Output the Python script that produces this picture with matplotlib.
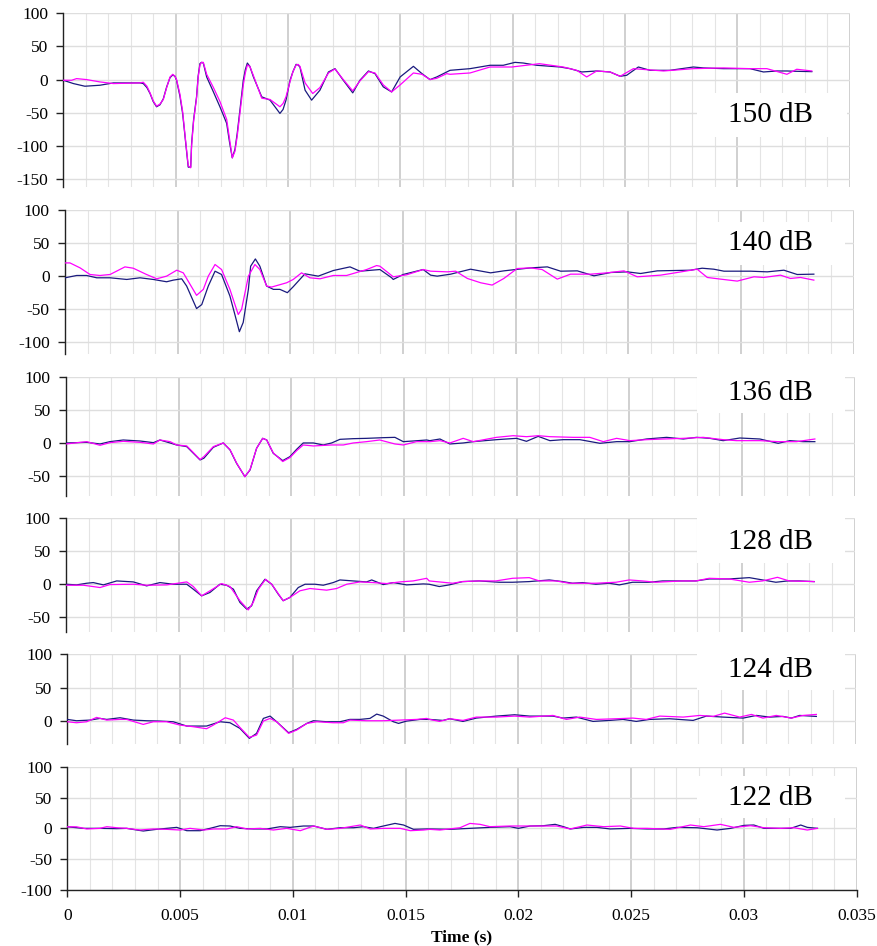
import numpy as np
import matplotlib
matplotlib.use("Agg")
import matplotlib.pyplot as plt
from matplotlib.patches import Rectangle

# ---------------- data (time in ms, pressure values) ----------------
labels = ["150 dB", "140 dB", "136 dB", "128 dB", "124 dB", "122 dB"]

t150_b = [0.0, 0.45, 0.96, 1.63, 2.23, 3.41, 3.56, 3.72, 3.86, 4.00, 4.15, 4.30, 4.45, 4.60, 4.75, 4.87, 4.97,
          5.04, 5.19, 5.31, 5.43, 5.56, 5.67, 5.71, 5.80, 5.93, 6.00, 6.08, 6.15, 6.23, 6.38, 6.68, 6.97, 7.27,
          7.40, 7.52, 7.64, 7.74, 7.88, 8.01, 8.10, 8.19, 8.30, 8.46, 8.83, 9.20, 9.64, 9.78, 9.91, 10.09,
          10.22, 10.36, 10.45, 10.53, 10.76, 11.05, 11.42, 11.80, 12.09, 12.46, 12.88, 13.20, 13.58, 13.87,
          14.24, 14.61, 14.99, 15.58, 15.96, 16.32, 16.62, 17.21, 18.10, 18.99, 19.58, 20.10, 20.47, 21.07,
          22.11, 22.55, 23.07, 23.74, 24.33, 24.78, 25.07, 25.59, 26.11, 27.00, 28.04, 28.49, 29.38, 30.56,
          31.16, 31.75, 32.20, 32.64, 33.31]
v150_b = [-1, -6, -10, -8.5, -5, -5, -6, -12, -21, -33, -41, -38, -29, -11, 3, 7, 5,
          -1, -25, -51, -90, -132, -132, -96, -60, -26, 5, 24, 26, 25, 4, -18.6, -41, -66,
          -95, -118, -105, -81, -40, -1, 15, 25, 20, 4, -26, -31, -51, -45, -31, -1,
          12, 23, 22, 19, -16, -31, -16, 11.5, 16.5, -1, -20, -1, 13, 9,
          -11, -18.6, 4, 20, 9, 0, 4, 14, 16.5, 21.6, 21.6, 26, 25, 21.6,
          19, 16.5, 11.5, 13, 11.5, 5, 6.5, 19, 14, 14, 19, 17.6, 16.5, 16.5,
          11.5, 13, 13, 12.5, 12]
t150_m = [0.0, 0.37, 0.59, 1.04, 1.63, 2.23, 3.41, 3.56, 3.72, 3.86, 4.00, 4.15, 4.30, 4.45, 4.60, 4.75, 4.87,
          4.97, 5.04, 5.19, 5.31, 5.43, 5.56, 5.67, 5.71, 5.80, 5.93, 6.00, 6.08, 6.15, 6.23, 6.38, 6.68, 6.97,
          7.27, 7.40, 7.52, 7.64, 7.74, 7.88, 8.01, 8.10, 8.19, 8.30, 8.46, 8.83, 9.20, 9.64, 9.78, 9.91,
          10.09, 10.22, 10.36, 10.45, 10.53, 10.76, 11.10, 11.42, 11.80, 12.09, 12.46, 12.88, 13.20, 13.58,
          13.87, 14.24, 14.61, 14.99, 15.58, 15.96, 16.32, 16.62, 17.06, 17.21, 18.10, 18.99, 19.96, 21.19,
          22.25, 22.85, 23.29, 23.74, 24.33, 24.78, 25.37, 26.71, 28.04, 29.38, 30.56, 31.31, 32.20, 32.64,
          33.31]
v150_m = [-1, -1, 1.5, 0, -3.5, -6, -5, -4, -10, -20, -32, -40, -37, -30, -12, 4, 8,
          5, 0, -22, -48, -88, -130, -133, -100, -62, -28, 3, 22, 26, 26, 8, -12, -33,
          -60, -90, -118, -108, -85, -45, -8, 10, 22, 20, 6, -28, -30, -41, -36, -26,
          -3, 12, 22, 23, 20, -5, -21, -12, 10, 16, 0, -17, -2, 12,
          10, -8, -18.6, -8, 10, 8, 0, 2, 9, 8, 10, 19, 19, 24,
          19, 14, 4, 13, 11.5, 5, 16.5, 13, 16.5, 17.6, 16.5, 16.5, 8, 15.6,
          13]

t140_b = [0.0, 0.52, 0.96, 1.41, 2.00, 2.74, 3.33, 3.92, 4.51, 4.81, 5.18, 5.40, 5.84, 6.07, 6.36, 6.66, 6.95,
          7.32, 7.54, 7.74, 7.91, 8.14, 8.24, 8.45, 8.65, 8.95, 9.25, 9.54, 9.87, 10.13, 10.65, 11.24, 11.91,
          12.65, 13.09, 13.98, 14.50, 14.57, 15.01, 15.90, 16.23, 16.52, 17.12, 18.00, 18.89, 19.48, 20.00,
          20.67, 21.41, 22.00, 22.74, 23.48, 24.22, 24.96, 25.55, 26.29, 27.77, 28.28, 28.80, 29.25, 30.43,
          31.17, 31.91, 32.50, 33.24]
v140_b = [-2.5, 1, 1, -2.5, -2.5, -5, -2.5, -5, -8.5, -6, -4, -15, -49, -43, -15, 7.5, 2.5,
          -30, -58, -84, -70, -20, 15, 26, 15, -15, -20, -20, -25, -16, 3.5, 0, 8.5,
          14, 7.5, 10, -2.5, -5, 2.5, 10, 1.5, 0, 3, 10.5, 5, 8, 10,
          12.5, 14, 7.5, 8, 0.5, 5.5, 6.5, 4, 8, 9, 12, 10.5, 7.5, 7.5,
          6.5, 9, 2.5, 3]
t140_m = [0.0, 0.22, 0.67, 1.11, 1.55, 2.00, 2.66, 3.03, 3.62, 4.07, 4.51, 4.96, 5.25, 5.84, 6.14, 6.36, 6.66,
          6.95, 7.32, 7.69, 7.84, 8.14, 8.43, 8.65, 8.95, 9.17, 9.84, 10.13, 10.50, 10.87, 11.32, 11.91, 12.50,
          13.39, 13.83, 13.98, 14.57, 15.16, 15.90, 16.23, 16.97, 17.34, 17.86, 18.45, 18.96, 19.48, 20.07,
          20.67, 21.18, 21.85, 22.44, 23.33, 24.07, 24.81, 25.40, 26.43, 27.17, 28.06, 28.51, 29.10, 29.84,
          30.58, 31.02, 31.76, 32.20, 32.65, 33.24]
v140_m = [20, 20, 12.5, 2.5, 1, 2.5, 14, 12, 2.5, -4, 0, 9, 5, -29, -20, 0, 17.6,
          10, -20, -58, -50, 0, 17.6, 10, -15, -16.5, -10, -5, 5, -2.5, -4, 1, 1,
          10, 16, 15, -1, 2, 10, 7.5, 6.5, 7.5, -3.5, -10, -13.5, -3.5, 11.5,
          12.5, 10, -4.5, 3, 3, 5, 8, -1, 1.5, 5.5, 10.5, -2, -4.5, -7.5,
          -1, -2, 1.5, -3.5, -2, -6]

t136_b = [0.0, 0.92, 1.51, 1.95, 2.54, 3.28, 3.88, 4.17, 4.62, 4.91, 5.36, 5.58, 5.95, 6.12, 6.54, 6.98, 7.28,
          7.57, 7.94, 8.17, 8.46, 8.73, 8.91, 9.20, 9.62, 9.94, 10.24, 10.53, 10.98, 11.42, 11.79, 12.16, 12.75,
          13.34, 14.08, 14.60, 14.97, 15.41, 16.01, 16.15, 16.60, 17.04, 17.63, 18.08, 19.11, 20.00, 20.44,
          20.96, 21.48, 22.07, 22.81, 23.70, 24.44, 25.03, 25.77, 26.66, 27.40, 27.99, 28.58, 29.17, 29.91,
          30.80, 31.61, 32.13, 32.72, 33.24]
v136_b = [0, 1, -1.5, 2, 4.5, 3, 0.5, 4.5, 0, -3, -5.5, -13, -25.6, -23, -6.5, 0, -10.5,
          -30.6, -50.8, -40.7, -8, 7, 4.5, -15.6, -26.6, -20.6, -9.5, 0, 0, -3, 0, 5.5, 6.5,
          7, 8, 8.5, 2, 3, 4.5, 3.5, 6, -1.5, 0, 2, 5, 7, 2.5,
          10, 3.5, 5, 5, -0.5, 2, 2, 6, 8.5, 6, 8.5, 7, 3.5, 7.5,
          6, -0.5, 3.5, 2, 2]
t136_m = [0.0, 0.92, 1.51, 1.95, 2.54, 3.28, 3.88, 4.17, 4.62, 4.91, 5.36, 5.58, 5.95, 6.12, 6.54, 6.98, 7.28,
          7.57, 7.94, 8.17, 8.46, 8.73, 8.91, 9.20, 9.62, 9.94, 10.24, 10.53, 10.98, 11.79, 12.31, 12.75, 13.34,
          13.93, 14.60, 14.97, 15.56, 16.15, 16.60, 17.04, 17.63, 18.08, 19.11, 19.85, 20.44, 20.96, 21.48,
          22.51, 23.25, 23.85, 24.44, 25.03, 25.77, 26.51, 27.40, 28.28, 29.17, 29.76, 30.80, 31.61, 32.43,
          33.24]
v136_m = [-1.5, 2, -3.5, 0.5, 2.5, 1, -1.5, 4.5, 2, -3, -4.5, -12, -25, -20.6, -5.5, 0, -10,
          -30, -51, -40, -8, 7, 4.5, -15, -28, -22, -11.5, -3, -4.5, -3, -3, 0, 2,
          4.5, -1.5, -3, 2, 2, 3.5, 0, 7, 2, 8.5, 11, 9.5, 11, 9.5,
          8.5, 8.5, 2, 7, 3.5, 5, 6, 7, 8.5, 5, 3.5, 3.5, 2, 2,
          6]

t128_b = [0.0, 0.47, 0.92, 1.21, 1.66, 2.25, 2.99, 3.58, 4.17, 4.76, 5.36, 5.65, 6.02, 6.39, 6.83, 7.13, 7.43,
          7.72, 8.02, 8.24, 8.46, 8.83, 9.13, 9.42, 9.64, 9.94, 10.31, 10.61, 11.05, 11.42, 11.86, 12.16, 12.75,
          13.34, 13.57, 14.08, 14.53, 15.12, 15.86, 16.12, 16.57, 17.01, 17.60, 18.34, 19.23, 19.82, 20.56,
          21.45, 22.04, 22.49, 22.93, 23.52, 24.11, 24.56, 25.15, 25.89, 26.48, 27.37, 27.96, 28.55, 29.44,
          30.33, 30.92, 31.51, 32.03, 32.54, 33.21]
v128_b = [0, -1, 1.5, 2.5, -1, 5, 3.5, -2.5, 2.5, 0, 0, -7.5, -17.6, -12.5, 0, -1.5, -7.5,
          -27.6, -37.7, -32.7, -10, 7.5, 0, -15, -25, -20, -5, 0, 0, -1.5, 2.5, 6.5, 5,
          3.5, 6.5, -0.5, 2.5, -1, 0.5, 0, -3.5, -1, 4, 5, 3, 3, 4,
          6.5, 4, 1.5, 2.5, 0, 1.5, -1, 3, 3, 5, 5, 5, 8, 8,
          10, 6.5, 3, 5, 5, 4]
t128_m = [0.0, 0.77, 1.51, 1.95, 2.99, 3.58, 4.47, 5.36, 5.65, 6.02, 6.39, 6.91, 7.28, 7.72, 8.09, 8.31, 8.54,
          8.86, 9.13, 9.64, 9.94, 10.38, 10.83, 11.57, 12.01, 12.46, 13.05, 13.64, 14.23, 14.82, 15.41, 16.01,
          16.12, 16.72, 17.16, 17.60, 18.34, 19.08, 19.82, 20.56, 21.01, 21.75, 22.34, 23.08, 23.52, 24.41,
          25.00, 25.59, 26.18, 27.37, 27.96, 28.55, 29.44, 30.33, 30.92, 31.58, 32.10, 33.21]
v128_m = [-1.5, -1.5, -5, -0.5, 0, -1.5, -1, 3.5, -3.5, -17.6, -10, 1, -3.5, -25, -39, -27.6, -7.5,
          7.5, 0, -25, -20, -10, -6.5, -9, -6.5, 0, 3.5, 2.5, 1, 3.5, 5, 9,
          5, 3, 1.5, 4, 5, 5, 9, 10, 5, 5, 1.5, 1.5, 1.5, 3,
          6.5, 5, 3, 5, 5, 9, 8, 3, 5, 10.5, 5, 4]

t124_b = [0.0, 0.41, 1.01, 1.45, 1.75, 2.34, 2.93, 3.52, 4.11, 4.70, 5.30, 5.89, 6.18, 6.78, 7.22, 7.66, 8.08,
          8.40, 8.70, 9.00, 9.29, 9.82, 10.18, 10.63, 10.92, 11.51, 12.10, 12.54, 12.99, 13.43, 13.73, 14.02,
          14.47, 14.70, 15.06, 15.65, 16.08, 16.67, 16.97, 17.56, 18.15, 19.04, 19.85, 20.52, 21.55, 22.00,
          22.59, 23.33, 24.07, 24.66, 25.25, 25.84, 26.73, 27.77, 28.36, 29.10, 29.99, 30.58, 31.17, 31.76,
          32.13, 32.50, 33.24]
v124_b = [2, 0, 1, 3.5, 2, 4.5, 1, 0, -0.5, -1.5, -8, -8, -8, -1.5, -3, -11.5, -26.5,
          -19, 3.5, 7, -1.5, -18, -13, -4, 0, -1.5, -1.5, 2, 2, 3.5, 10, 7,
          -1.5, -4, -0.5, 2, 2, 0.5, 3, -1, 4, 7, 9, 7, 7, 4,
          5.5, -1, 0.5, 2, -1, 2, 3, 0.5, 7, 5.5, 4, 8, 5.5, 6.5,
          4, 8, 6.5]
t124_m = [0.0, 0.41, 0.86, 1.30, 1.75, 2.34, 2.63, 3.37, 3.82, 4.41, 5.00, 5.59, 6.18, 6.48, 7.01, 7.37, 7.66,
          8.08, 8.40, 8.70, 9.00, 9.29, 9.82, 10.18, 10.63, 11.07, 11.80, 12.25, 12.54, 13.28, 14.02, 14.76,
          15.50, 15.95, 16.08, 16.52, 16.97, 17.56, 18.15, 19.04, 19.85, 20.52, 21.55, 22.15, 22.74, 23.48,
          24.36, 25.10, 25.69, 26.29, 27.33, 28.07, 28.66, 29.17, 29.84, 30.36, 30.87, 31.46, 32.13, 32.65,
          33.24]
v124_m = [-1.5, -3, -1.5, 5, 1, 2, 2, -5.5, -1.5, -1.5, -6.5, -9, -12, -6.5, 4.5, 1, -10,
          -25, -21.5, -0.5, 3.5, -1.5, -19, -14, -4, -1.5, -3, -3, 1, 0, 0, 1,
          2, 3.5, 2, -1, 3, 0.5, 5.5, 5.5, 7, 5.5, 8, 2, 5.5, 2,
          3, 4, 2, 7, 5.5, 8, 6.5, 11.5, 5.5, 9.5, 4, 8, 4, 8,
          9.5]

t122_b = [0.0, 0.71, 1.45, 2.19, 2.63, 3.08, 3.37, 3.96, 4.41, 4.85, 5.30, 5.89, 6.33, 6.78, 7.22, 7.66, 8.25,
          8.85, 9.44, 9.88, 10.47, 10.92, 11.51, 12.10, 12.69, 13.13, 13.58, 13.88, 14.53, 14.91, 15.35, 15.95,
          16.07, 16.96, 17.85, 18.74, 19.63, 20.00, 20.52, 21.11, 21.63, 22.00, 22.30, 22.89, 23.48, 24.07,
          24.96, 25.70, 26.44, 27.04, 27.93, 28.81, 29.41, 30.00, 30.44, 30.89, 31.63, 32.07, 32.52, 32.81,
          33.26]
v122_b = [2.5, 0, 0, -0.5, 0, -2.7, -4.3, -1.6, 0, 1.6, -3.8, -3.8, 0, 4.3, 3.8, 0, -1,
          -1, 2.7, 1.6, 3.8, 3.8, -1.6, 1, 1, 2.7, 0, 2.7, 8, 5.4, -1.6, -1,
          -1, -1.6, 0, 1.6, 2.7, 0, 3.8, 4.3, 6.5, 2.7, -1, 1.6, 1.6, -1,
          0, -1, -1, 1.6, 1, -2.7, 0, 4.8, 5.4, 0, 0, 0, 5.4, 1.6,
          0]
t122_m = [0.0, 0.41, 0.86, 1.45, 1.75, 2.19, 2.63, 3.22, 3.81, 4.41, 5.00, 5.44, 6.04, 6.48, 7.07, 7.51, 7.96,
          8.55, 9.14, 9.73, 10.33, 10.92, 11.51, 12.10, 12.99, 13.43, 14.02, 14.76, 15.21, 15.80, 16.07, 16.52,
          17.41, 17.85, 18.30, 18.74, 19.63, 20.52, 21.70, 22.30, 23.04, 23.78, 24.52, 25.11, 25.70, 26.74,
          27.63, 28.22, 28.96, 29.56, 30.30, 30.89, 31.63, 32.22, 32.81, 33.26]
v122_m = [2.5, 2.5, -1, 0, 2.7, 1, 0, -2.7, -1, -1.6, -2.7, 0, -2.7, -1, -1, 2.7, -1,
          0, -2.7, 0, -3.8, 3.8, -1.6, 0, 5.4, -1, 0, 0, -3.8, -2.7, -1.6, -2.7,
          1, 8, 6.5, 2.7, 3.8, 3.8, 3.8, -1, 5.4, 2.7, 3.8, 0, 0, -1.6,
          5.4, 2.7, 6.5, 1.6, 4.3, 1, 0, 1, -2.7, 0]

series = [(t150_b, v150_b, t150_m, v150_m), (t140_b, v140_b, t140_m, v140_m),
          (t136_b, v136_b, t136_m, v136_m), (t128_b, v128_b, t128_m, v128_m),
          (t124_b, v124_b, t124_m, v124_m), (t122_b, v122_b, t122_m, v122_m)]

yticks = [[-150, -100, -50, 0, 50, 100], [-100, -50, 0, 50, 100], [-50, 0, 50, 100],
          [-50, 0, 50, 100], [0, 50, 100], [-100, -50, 0, 50, 100]]
xticks = [0, 0.005, 0.01, 0.015, 0.02, 0.025, 0.03, 0.035]
xtick_labels = ["0", "0.005", "0.01", "0.015", "0.02", "0.025", "0.03", "0.035"]
xlabel = "Time (s)"

# ---------------- layout (pixels) ----------------
W, H = 877, 946
# left, right, top, bottom (px), ymin
frames = [(63.3, 849.8, 13.3, 187.0, -162),
          (65.0, 853.5, 210.0, 354.0, -117.7),
          (66.0, 854.5, 376.7, 496.0, -80),
          (66.0, 854.5, 518.3, 631.7, -72),
          (67.3, 856.0, 654.3, 744.0, -35),
          (67.3, 856.7, 766.7, 890.0, -100)]
boxes = [(697, 847, 93, 137), (697, 845, 222, 265), (697, 845, 368, 413),
         (697, 845, 510, 563), (697, 845, 645, 690), (697, 845, 776, 818)]
label_y = [115, 243, 393, 542, 670, 798]

SERIF = ["Liberation Serif", "DejaVu Serif"]
plt.rcParams["font.family"] = SERIF

fig = plt.figure(figsize=(W / 100, H / 100), dpi=100)
fig.patch.set_facecolor("white")

NAVY = "#1a1a7e"
MAG = "#ff00ff"

for i, ((l, r, t, b, ymin), (tb, vb, tm, vm), yt) in enumerate(zip(frames, series, yticks)):
    ax = fig.add_axes([l / W, 1 - b / H, (r - l) / W, (b - t) / H])
    ax.set_xlim(0, 0.035)
    ax.set_ylim(ymin, 100)
    ax.set_yticks(yt)
    ax.set_yticklabels([str(v) for v in yt])
    ax.set_xticks(xticks)
    ax.set_xticks(np.arange(0, 0.0351, 0.001), minor=True)
    ax.grid(which="minor", axis="x", color="#e4e4e4", lw=0.8, zorder=0)
    ax.grid(which="major", axis="x", color="#c4c4c4", lw=1.1, zorder=0)
    ax.grid(which="major", axis="y", color="#dedede", lw=1.0, zorder=0)
    ax.set_axisbelow(True)
    for s in ["top", "right"]:
        ax.spines[s].set_visible(False)
    ax.spines["left"].set_color("#222222")
    ax.spines["left"].set_linewidth(1.0)
    ax.tick_params(axis="y", direction="out", length=5, width=1.0, colors="#222222",
                   labelcolor="black", labelsize=12.5, pad=6)
    ax.tick_params(axis="x", which="minor", length=0)
    if i < 5:
        ax.spines["bottom"].set_visible(False)
        ax.tick_params(axis="x", which="major", length=0, labelbottom=False)
    else:
        ax.spines["bottom"].set_color("#222222")
        ax.spines["bottom"].set_linewidth(1.0)
        ax.set_xticklabels(xtick_labels)
        ax.tick_params(axis="x", which="major", direction="out", length=5, width=1.0,
                       colors="#222222", labelcolor="black", labelsize=12.5, pad=8)
    ax.plot(np.array(tb) / 1000.0, vb, color=NAVY, lw=0.9, zorder=3)
    ax.plot(np.array(tm) / 1000.0, vm, color=MAG, lw=0.9, zorder=4)

    bx0, bx1, by0, by1 = boxes[i]
    fig.patches.append(Rectangle((bx0 / W, 1 - by1 / H), (bx1 - bx0) / W, (by1 - by0) / H,
                                 transform=fig.transFigure, facecolor="white", edgecolor="none",
                                 zorder=5))
    fig.text(770 / W, 1 - label_y[i] / H, labels[i], ha="center", va="center",
             fontsize=21, color="black", zorder=6)

fig.text(461.5 / W, 1 - 937 / H, xlabel, ha="center", va="center", fontsize=12.5,
         fontweight="bold", color="black")

fig.savefig("out.png", dpi=100)
